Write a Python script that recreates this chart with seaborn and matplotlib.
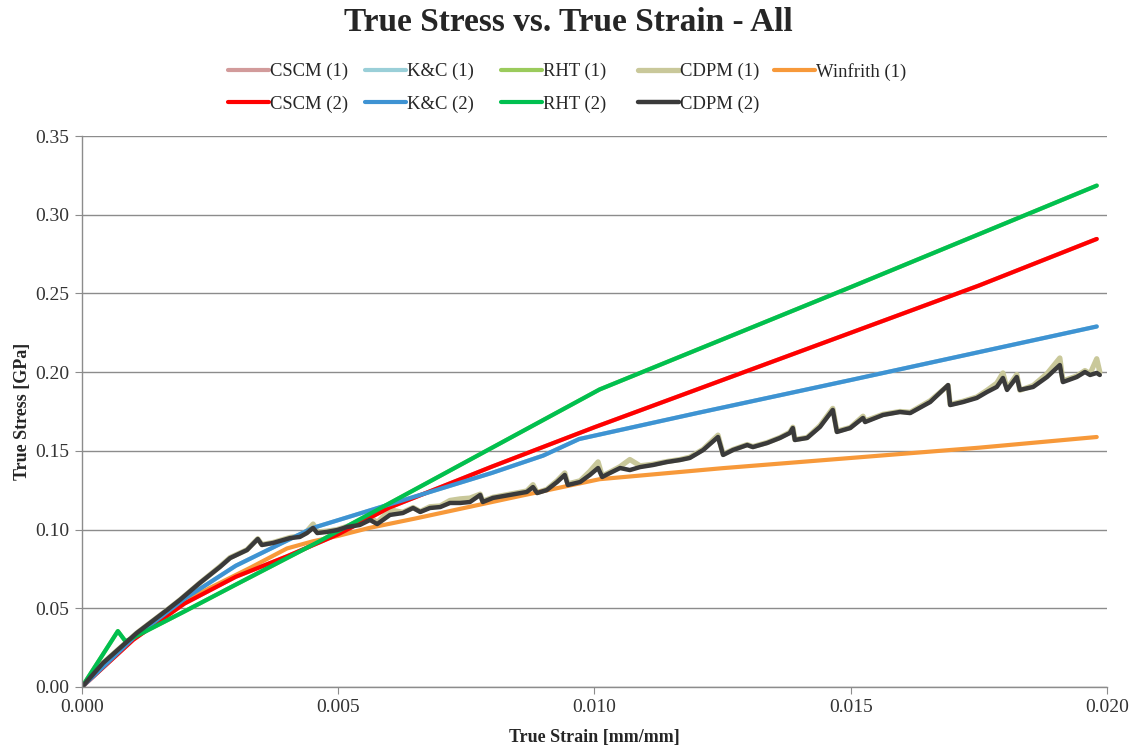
import pandas as pd
import matplotlib
matplotlib.use('Agg')
import matplotlib.pyplot as plt
import seaborn as sns

# --- data ---
cscm_strain = [0, 0.001, 0.002, 0.003, 0.004, 0.005, 0.006, 0.008, 0.010, 0.012, 0.015, 0.0175, 0.0198]
cscm_stress = [0, 0.030, 0.053, 0.070, 0.083, 0.097, 0.114, 0.140, 0.165, 0.189, 0.225, 0.255, 0.2846]

kc_strain = [0, 0.001, 0.002, 0.003, 0.004, 0.0045, 0.005, 0.006, 0.007, 0.008, 0.009, 0.0097, 0.012, 0.015, 0.0198]
kc_stress = [0, 0.031, 0.056, 0.077, 0.093, 0.101, 0.106, 0.116, 0.126, 0.136, 0.147, 0.1575, 0.174, 0.195, 0.229]

rht_strain = [0, 0.0007, 0.00085, 0.0011, 0.002, 0.003, 0.0046, 0.0101, 0.015, 0.0198]
rht_stress = [0, 0.0355, 0.029, 0.033, 0.048, 0.065, 0.092, 0.189, 0.254, 0.3185]

winfrith_strain = [0, 0.0005, 0.001, 0.0017, 0.0025, 0.0033, 0.004, 0.0045, 0.005, 0.0056,
                   0.0065, 0.0075, 0.0085, 0.0101, 0.0125, 0.0152, 0.0175, 0.0198]
winfrith_stress = [0, 0.017, 0.031, 0.049, 0.063, 0.076, 0.088, 0.0925, 0.096, 0.101,
                   0.107, 0.114, 0.121, 0.132, 0.139, 0.146, 0.152, 0.1588]

cdpm_strain = [0, 0.00041, 0.00107, 0.00166, 0.00191, 0.00230, 0.00269, 0.00289, 0.00322, 0.00343,
               0.00351, 0.00373, 0.00406, 0.00425, 0.00439, 0.00451, 0.00459, 0.00478, 0.00498, 0.00517,
               0.00542, 0.00562, 0.00576, 0.00601, 0.00626, 0.00646, 0.00660, 0.00679, 0.00699, 0.00718,
               0.00738, 0.00757, 0.00777, 0.00782, 0.00802, 0.00835, 0.00868, 0.00880, 0.00888, 0.00907,
               0.00927, 0.00942, 0.00948, 0.00972, 0.00991, 0.01007, 0.01015, 0.01030, 0.01050, 0.01069,
               0.01089, 0.01114, 0.01141, 0.01167, 0.01186, 0.01212, 0.01241, 0.01251, 0.01270, 0.01298,
               0.01309, 0.01337, 0.01362, 0.01381, 0.01387, 0.01391, 0.01415, 0.01440, 0.01465, 0.01473,
               0.01499, 0.01524, 0.01528, 0.01563, 0.01596, 0.01616, 0.01655, 0.01690, 0.01694, 0.01719,
               0.01746, 0.01766, 0.01785, 0.01797, 0.01805, 0.01824, 0.01830, 0.01856, 0.01883, 0.01908,
               0.01914, 0.01941, 0.01957, 0.01967, 0.01980, 0.01986]
cdpm1_stress = [0, 0.0152, 0.0343, 0.0489, 0.0553, 0.0661, 0.0765, 0.0822, 0.0872, 0.0942,
                0.0905, 0.0918, 0.0950, 0.0960, 0.0990, 0.1035, 0.0985, 0.0990, 0.1000, 0.1020,
                0.1045, 0.1080, 0.1045, 0.1125, 0.1110, 0.1140, 0.1115, 0.1145, 0.1150, 0.1185,
                0.1195, 0.1200, 0.1225, 0.1180, 0.1205, 0.1225, 0.1245, 0.1285, 0.1235, 0.1255,
                0.1310, 0.1360, 0.1290, 0.1310, 0.1370, 0.1430, 0.1340, 0.1365, 0.1400, 0.1445,
                0.1405, 0.1415, 0.1432, 0.1445, 0.1460, 0.1510, 0.1600, 0.1478, 0.1508, 0.1540,
                0.1527, 0.1553, 0.1585, 0.1618, 0.1650, 0.1572, 0.1585, 0.1660, 0.1770, 0.1625,
                0.1648, 0.1720, 0.1690, 0.1732, 0.1750, 0.1745, 0.1818, 0.1915, 0.1795, 0.1815,
                0.1842, 0.1885, 0.1930, 0.1995, 0.1895, 0.1985, 0.1885, 0.1915, 0.1990, 0.2090,
                0.1945, 0.1975, 0.2010, 0.1990, 0.2085, 0.2000]
cdpm2_stress = [0, 0.0152, 0.0343, 0.0489, 0.0553, 0.0661, 0.0762, 0.0819, 0.0870, 0.0940,
                0.0902, 0.0915, 0.0946, 0.0953, 0.0978, 0.1010, 0.0978, 0.0985, 0.0997, 0.1016,
                0.1029, 0.1061, 0.1035, 0.1093, 0.1105, 0.1137, 0.1112, 0.1137, 0.1143, 0.1169,
                0.1169, 0.1175, 0.1220, 0.1175, 0.1201, 0.1220, 0.1239, 0.1270, 0.1232, 0.1251,
                0.1302, 0.1347, 0.1283, 0.1302, 0.1347, 0.1391, 0.1334, 0.1359, 0.1391, 0.1378,
                0.1397, 0.1410, 0.1429, 0.1442, 0.1455, 0.1505, 0.1588, 0.1474, 0.1505, 0.1537,
                0.1524, 0.1550, 0.1582, 0.1613, 0.1645, 0.1569, 0.1582, 0.1652, 0.1760, 0.1620,
                0.1645, 0.1709, 0.1683, 0.1728, 0.1747, 0.1740, 0.1810, 0.1918, 0.1791, 0.1810,
                0.1836, 0.1874, 0.1906, 0.1963, 0.1887, 0.1969, 0.1887, 0.1906, 0.1969, 0.2045,
                0.1937, 0.1969, 0.2001, 0.1982, 0.1995, 0.1982]

# (label, strain, stress, colour, width) in drawing order
series = [
    ('CSCM (1)', cscm_strain, cscm_stress, '#D29B9B', 3.0),
    ('K&C (1)', kc_strain, kc_stress, '#9ACFD8', 3.0),
    ('RHT (1)', rht_strain, rht_stress, '#9BCB5C', 3.0),
    ('CDPM (1)', cdpm_strain, cdpm1_stress, '#C9C89A', 3.8),
    ('Winfrith (1)', winfrith_strain, winfrith_stress, '#F7993A', 3.0),
    ('CSCM (2)', cscm_strain, cscm_stress, '#FF0000', 3.0),
    ('K&C (2)', kc_strain, kc_stress, '#3E93D3', 3.0),
    ('RHT (2)', rht_strain, rht_stress, '#00C050', 3.0),
    ('CDPM (2)', cdpm_strain, cdpm2_stress, '#3A3A3A', 3.2),
]

sns.set_style('white')
plt.rcParams['font.family'] = ['Liberation Serif', 'DejaVu Serif']

fig = plt.figure(figsize=(11.37, 7.49), dpi=100)
ax = fig.add_axes([0.0721, 0.0828, 0.9015, 0.7356])

handles = {}
for label, xs, ys, col, lw in series:
    df = pd.DataFrame({'strain': xs, 'stress': ys})
    sns.lineplot(x='strain', y='stress', data=df, ax=ax, sort=False, estimator=None,
                 color=col, linewidth=lw, label=label, legend=False)
    handles[label] = ax.lines[-1]

ax.set_xlim(0, 0.020)
ax.set_ylim(0, 0.35)
ax.set_xticks([0, 0.005, 0.010, 0.015, 0.020])
ax.set_xticklabels(['0.000', '0.005', '0.010', '0.015', '0.020'])
ax.set_yticks([0, 0.05, 0.10, 0.15, 0.20, 0.25, 0.30, 0.35])
ax.set_yticklabels(['0.00', '0.05', '0.10', '0.15', '0.20', '0.25', '0.30', '0.35'])
ax.yaxis.grid(True, color='#8C8C8C', linewidth=1.0)
ax.set_axisbelow(True)
for s in ['top', 'right']:
    ax.spines[s].set_visible(False)
for s in ['left', 'bottom']:
    ax.spines[s].set_color('#8C8C8C')
    ax.spines[s].set_linewidth(1.0)
ax.tick_params(axis='both', direction='out', length=5, color='#8C8C8C', labelsize=14,
               labelcolor='#333333', bottom=True, left=True, pad=4)
ax.set_xlabel('True Strain [mm/mm]', fontsize=13, fontweight='bold', labelpad=9)
ax.set_ylabel('True Stress [GPa]', fontsize=13, fontweight='bold', labelpad=3)

fig.text(0.5, 0.970, 'True Stress vs. True Strain - All', fontsize=24, fontweight='bold',
         ha='center', va='center')

# legend laid out column by column, as in the reference
columns = [['CSCM (1)', 'CSCM (2)'], ['K&C (1)', 'K&C (2)'], ['RHT (1)', 'RHT (2)'],
           ['CDPM (1)', 'CDPM (2)'], ['Winfrith (1)']]
col_left_px = [228, 365, 501, 638, 774]
for names, xpx in zip(columns, col_left_px):
    fig.legend([handles[k] for k in names], names, loc='upper left',
               bbox_to_anchor=(xpx / 1137, 1 - 63 / 749), frameon=False, fontsize=13.4,
               handlelength=2.2, handletextpad=0.05, borderpad=0, borderaxespad=0,
               labelspacing=0.8)

fig.savefig('out.png', dpi=100)
